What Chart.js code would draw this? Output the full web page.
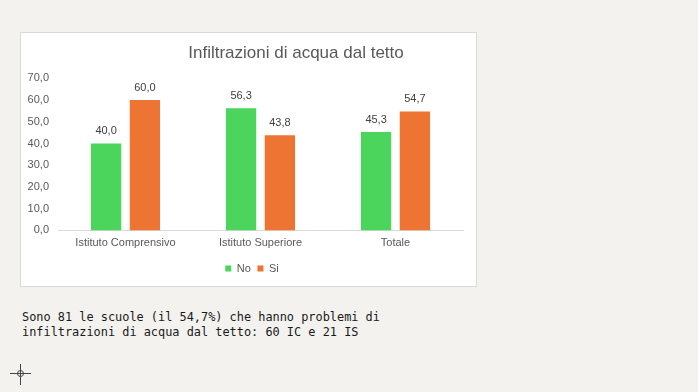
<!DOCTYPE html>
<html><head><meta charset="utf-8">
<script src="https://cdn.jsdelivr.net/npm/chart.js@4/dist/chart.umd.min.js"></script>
<style>
html,body{margin:0;padding:0;background:#f3f2ef;width:698px;height:392px;overflow:hidden;}
#box{position:absolute;left:20px;top:32px;width:455px;height:253px;background:#fff;border:1px solid #d9d9d9;}
#note{position:absolute;left:22px;top:310px;font-family:"DejaVu Sans Mono",monospace;font-size:11.9px;line-height:15px;color:#1a1a1a;white-space:pre;}
.ch{position:absolute;background:#444;}
#circ{position:absolute;left:17px;top:370px;width:5px;height:5px;border:1px solid #444;border-radius:50%;}
</style></head><body>
<div id="box"><canvas id="c" width="455" height="253"></canvas></div>
<div id="note">Sono 81 le scuole (il 54,7%) che hanno problemi di
infiltrazioni di acqua dal tetto: 60 IC e 21 IS</div>
<div class="ch" style="left:10px;top:373px;width:21px;height:1px"></div>
<div class="ch" style="left:20px;top:364px;width:1px;height:21px"></div>
<div id="circ"></div>
<script>
const categories = ["Istituto Comprensivo", "Istituto Superiore", "Totale"];
const seriesNames = ["No", "Si"];
const noValues = [40.0, 56.3, 45.3];
const siValues = [60.0, 43.8, 54.7];
const yTicks = [0, 10, 20, 30, 40, 50, 60, 70];
const titleText = "Infiltrazioni di acqua dal tetto";

const fmt = v => v.toFixed(1).replace('.', ',');
const FONT = "'Liberation Sans', Arial, sans-serif";

const labelPlugin = {
  id: 'valueLabels',
  afterDatasetsDraw(chart) {
    const ctx = chart.ctx;
    ctx.save();
    ctx.font = "11px " + FONT;
    ctx.fillStyle = "#404040";
    ctx.textAlign = "center";
    ctx.textBaseline = "bottom";
    chart.data.datasets.forEach((ds, i) => {
      chart.getDatasetMeta(i).data.forEach((bar, j) => {
        ctx.fillText(fmt(ds.data[j]), bar.x, bar.y - 7);
      });
    });
    ctx.restore();
  }
};
const boxShift = {
  id: 'boxShift',
  afterLayout(chart) {
    const t = chart.titleBlock;
    if (t) { t.left += 54; t.right += 54; }
    const l = chart.legend;
    if (l) { l.left += 10; l.right += 10; }
  }
};

new Chart(document.getElementById('c'), {
  type: 'bar',
  data: {
    labels: categories,
    datasets: [
      { label: seriesNames[0], data: noValues, backgroundColor: '#4cd55c' },
      { label: seriesNames[1], data: siValues, backgroundColor: '#ed7432' }
    ]
  },
  options: {
    responsive: false,
    animation: false,
    devicePixelRatio: 1,
    layout: { padding: { left: 0, right: 13, top: 0, bottom: 2 } },
    datasets: { bar: { categoryPercentage: 0.575, barPercentage: 0.78 } },
    plugins: {
      title: {
        display: true, text: titleText, color: '#595959',
        font: { family: FONT, size: 17, weight: 'normal' },
        padding: { top: 10, bottom: 15 }
      },
      legend: {
        position: 'bottom',
        labels: { boxWidth: 6, boxHeight: 6, color: '#595959', font: { family: FONT, size: 11 }, padding: 6.6 }
      },
      tooltip: { enabled: false }
    },
    scales: {
      x: {
        grid: { display: false, drawTicks: false },
        border: { display: true, color: '#d9d9d9' },
        ticks: { color: '#595959', font: { family: FONT, size: 11 }, padding: 6.4, maxRotation: 0 }
      },
      y: {
        min: 0, max: 70,
        afterFit(s) { s.width = 37; },
        afterBuildTicks(s) { s.ticks = yTicks.map(v => ({ value: v })); },
        grid: { display: false, drawTicks: false },
        border: { display: false },
        ticks: { color: '#595959', font: { family: FONT, size: 11 }, padding: 9, callback: v => fmt(v) }
      }
    }
  },
  plugins: [labelPlugin, boxShift]
});
</script>
</body></html>
